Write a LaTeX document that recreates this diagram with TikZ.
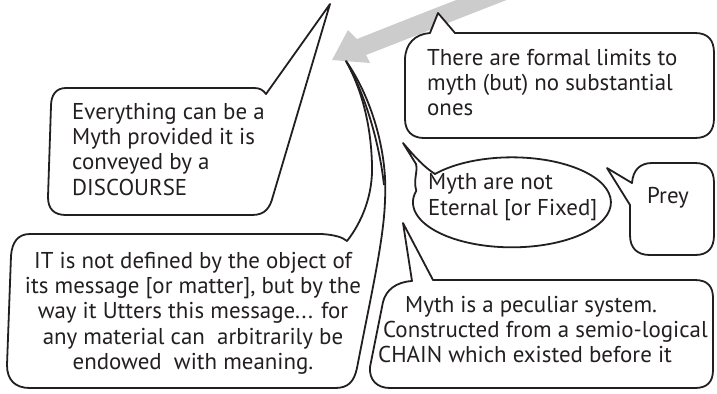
\documentclass[tikz,border=0pt]{standalone}
\usepackage{fontspec}
\setmainfont{PT Sans}
\definecolor{arrowgray}{RGB}{204,204,204}
\definecolor{inkc}{RGB}{35,31,32}
\begin{document}
\begin{tikzpicture}[x=1bp,y=-1bp,
  bub/.style={draw=inkc, line width=1.8bp, fill=white, line join=round},
  edge/.style={draw=inkc, line width=1.8bp},
  txt/.style={font=\fontsize{23}{25.5}\selectfont, inner sep=0pt, text=inkc}]
\useasboundingbox (0,0) rectangle (717,393);
% grey arrow
\fill[arrowgray] (332,60) -- (348,30) -- (357,39) .. controls (395,24) and (430,10) .. (472,-6)
  -- (522,-6) .. controls (460,18) and (410,38) .. (366,55) -- (370,63) -- cycle;
% Everything bubble
\draw[bub] (66,88) -- (254,88) .. controls (260,88) and (263,90) .. (266,94) -- (330,4)
  -- (273,196) .. controls (270,208) and (265,215) .. (252,215) -- (66,215)
  .. controls (54,215) and (48,209) .. (48,197) -- (51,106) .. controls (51,95) and (56,88) .. (66,88) -- cycle;
% IT bubble
\draw[bub] (30,234) -- (322,234) .. controls (335,235) and (342,237) .. (347,241)
  .. controls (362,222) and (373,195) .. (372,165) .. controls (371,125) and (362,90) .. (346,61)
  .. controls (370,95) and (388,150) .. (385,200) .. controls (384,240) and (370,300) .. (357,368)
  .. controls (354,382) and (348,388) .. (335,388) -- (30,388)
  .. controls (15,388) and (7,380) .. (7,365) -- (11,256) .. controls (12,242) and (18,234) .. (30,234) -- cycle;
\coordinate (ittip) at (346,61);
\coordinate (itjoin) at (384,185);
\draw[edge] (ittip) .. controls (364,92) and (379,140) .. (itjoin);
% There are formal limits bubble
\draw[bub] (455,33) -- (695,33) .. controls (708,33) and (714,40) .. (714,53) -- (714,118)
  .. controls (714,131) and (708,138) .. (695,138) -- (424,138) .. controls (412,138) and (405,131) .. (405,119)
  -- (405,60) .. controls (405,44) and (415,34) .. (430,33) -- (438,13) -- cycle;
% Myth are not Eternal (ellipse)
\draw[bub] (435,174) arc[start angle=219, end angle=555, x radius=99, y radius=45]
  .. controls (413,180) and (418,172) .. (416,164) -- (403,143)
  .. controls (415,157) and (424,167) .. (435,174) -- cycle;
% Prey bubble
\draw[bub] (652,163) -- (695,163) .. controls (708,163) and (714,170) .. (714,183) -- (714,235)
  .. controls (714,248) and (708,255) .. (695,255) -- (650,255) .. controls (637,255) and (630,248) .. (630,235)
  -- (630,205) -- (607,168) -- (632,183) .. controls (633,170) and (640,163) .. (652,163) -- cycle;
% Myth is a peculiar system bubble
\draw[bub] (433,280) -- (695,280) .. controls (708,280) and (713,287) .. (713,298) -- (713,370)
  .. controls (713,382) and (707,388) .. (695,388) -- (390,388) .. controls (377,388) and (369,380) .. (370,367)
  -- (383,302) .. controls (386,290) and (396,282) .. (412,281) -- (403,223) -- cycle;
% texts
\node[txt, align=left, anchor=north west] (t1) at (72,102.6) {Everything can be a\\Myth provided it is\\conveyed by a\\DISCOURSE};
\node[txt, align=left, anchor=north west] (t2) at (427,48.6) {There are formal limits to\\myth (but) no substantial\\ones};
\node[txt, align=center, anchor=north] (t3) at (193,251.6) {IT is not defined by the object of\\its message [or matter], but by the\\way it Utters this message... for\\any material can\ \ arbitrarily be\\endowed\ \ with meaning.};
\node[txt, align=left, anchor=north west] (t4) at (428,173.6) {Myth are not\\Eternal [or Fixed]};
\node[txt, anchor=north] (t5) at (668,187) {Prey};
\node[txt, align=left, anchor=north west] (t6) at (378,295.6) {\hspace*{27bp}Myth is a peculiar system.\\\hspace*{5bp}Constructed from a semio-logical\\CHAIN which existed before it};
\end{tikzpicture}
\end{document}
